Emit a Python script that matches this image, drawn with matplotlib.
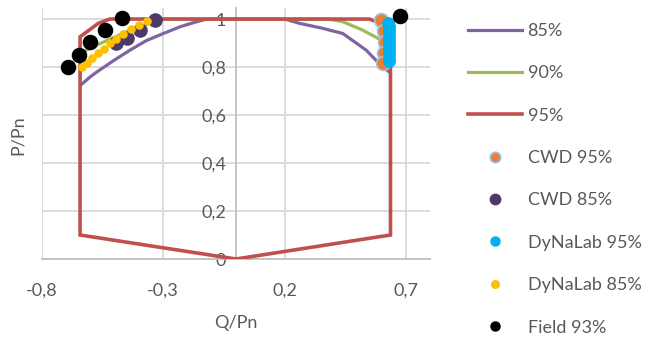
import matplotlib.pyplot as plt
from matplotlib.lines import Line2D
from matplotlib.ticker import FuncFormatter

plt.rcParams['font.family'] = ['Lato', 'DejaVu Sans']

# ================= DATA =================
# capability curves (Q/Pn, P/Pn)
q_85 = [-0.640, -0.600, -0.573, -0.500, -0.436, -0.370, -0.299, -0.230, -0.162, -0.120,
        0.000, 0.200, 0.262, 0.350, 0.440, 0.536, 0.590, 0.637]
p_85 = [0.725, 0.760, 0.780, 0.830, 0.871, 0.910, 0.940, 0.968, 0.989, 1.000,
        1.000, 1.000, 0.982, 0.963, 0.940, 0.871, 0.815, 0.775]

q_90 = [-0.643, -0.630, -0.560, -0.500, -0.440, -0.376, -0.320, 0.380, 0.440, 0.520, 0.600, 0.637]
p_90 = [0.855, 0.864, 0.898, 0.925, 0.952, 0.975, 1.000, 1.000, 0.989, 0.955, 0.912, 0.870]

q_95 = [0.000, -0.643, -0.643, -0.568, -0.520, 0.550, 0.600, 0.637, 0.637, 0.000]
p_95 = [0.000, 0.100, 0.926, 0.982, 1.000, 1.000, 0.980, 0.930, 0.100, 0.000]

# measurements
q_cwd95 = [0.600, 0.610, 0.615, 0.612, 0.605]
p_cwd95 = [0.996, 0.950, 0.905, 0.860, 0.815]

q_cwd85 = [-0.335, -0.396, -0.450, -0.493]
p_cwd85 = [0.996, 0.954, 0.919, 0.899]

q_dyn95 = [0.627, 0.629, 0.630, 0.630, 0.631, 0.631, 0.631, 0.630, 0.631, 0.630, 0.629, 0.630]
p_dyn95 = [0.985, 0.970, 0.955, 0.940, 0.925, 0.910, 0.895, 0.880, 0.865, 0.850, 0.835, 0.825]

q_dyn85 = [-0.636, -0.616, -0.592, -0.568, -0.545, -0.520, -0.495, -0.465, -0.431, -0.400, -0.369]
p_dyn85 = [0.801, 0.818, 0.839, 0.857, 0.875, 0.899, 0.915, 0.936, 0.957, 0.975, 0.993]

q_field = [-0.694, -0.648, -0.602, -0.541, -0.472, 0.678]
p_field = [0.801, 0.850, 0.903, 0.954, 1.006, 1.012]

x_ticks = [-0.8, -0.3, 0.2, 0.7]
y_ticks = [0, 0.2, 0.4, 0.6, 0.8, 1.0]

# ================= COLORS =================
c85 = '#8064A2'
c90 = '#9BBB59'
c95 = '#C0504D'
c_cwd95 = '#ED7D31'
c_cwd95_edge = '#9DC3E6'
c_cwd85 = '#4B3A68'
c_dyn95 = '#00B0F0'
c_dyn85 = '#FFC000'
c_field = '#000000'
txt = '#595959'
fs = 13

# ================= PLOT =================
fig = plt.figure(figsize=(6.61, 3.39), dpi=100)
ax = fig.add_axes([42 / 661, 80 / 339, 388 / 661, 251 / 339])

ax.plot(q_85, p_85, color=c85, lw=2.3, solid_capstyle='round', zorder=3)
ax.plot(q_90, p_90, color=c90, lw=2.3, solid_capstyle='round', zorder=3)
ax.plot(q_95, p_95, color=c95, lw=2.6, solid_joinstyle='miter', zorder=3)

ax.scatter(q_cwd95, p_cwd95, s=100, color=c_cwd95, edgecolor=c_cwd95_edge, linewidth=1.2, zorder=4)
ax.scatter(q_cwd85, p_cwd85, s=110, color=c_cwd85, linewidth=0, zorder=4)
ax.scatter(q_dyn95, p_dyn95, s=85, color=c_dyn95, linewidth=0, zorder=5)
ax.scatter(q_dyn85, p_dyn85, s=38, color=c_dyn85, linewidth=0, zorder=6)
ax.scatter(q_field, p_field, s=125, color=c_field, linewidth=0, zorder=7, clip_on=False)

ax.set_xlim(-0.8, 0.8)
ax.set_ylim(0, 1.046)
ax.set_xticks(x_ticks)
ax.set_yticks(y_ticks)

comma = FuncFormatter(lambda v, pos: f"{v:g}".replace('.', ','))
ax.xaxis.set_major_formatter(comma)
ax.yaxis.set_major_formatter(comma)

ax.grid(True, color='#D9D9D9', lw=1.3, zorder=0)
ax.set_axisbelow(True)
for s in ['top', 'right']:
    ax.spines[s].set_visible(False)
ax.spines['left'].set_position(('data', 0))
ax.spines['left'].set_color('#BFBFBF')
ax.spines['left'].set_linewidth(1.3)
ax.spines['bottom'].set_color('#BFBFBF')
ax.spines['bottom'].set_linewidth(1.3)

ax.tick_params(axis='both', length=0, labelsize=fs, labelcolor=txt)
ax.tick_params(axis='x', pad=17)
ax.tick_params(axis='y', pad=7)

ax.set_xlabel('Q/Pn', fontsize=fs, color=txt, labelpad=12)
fig.text(18 / 661, 1 - 135 / 339, 'P/Pn', rotation=90, fontsize=fs, color=txt,
         ha='center', va='center')

handles = [
    Line2D([], [], color=c85, lw=2.3),
    Line2D([], [], color=c90, lw=2.3),
    Line2D([], [], color=c95, lw=2.6),
    Line2D([], [], ls='', marker='o', ms=7.5, mfc=c_cwd95, mec=c_cwd95_edge, mew=1.2),
    Line2D([], [], ls='', marker='o', ms=7.5, mfc=c_cwd85, mec=c_cwd85),
    Line2D([], [], ls='', marker='o', ms=6.5, mfc=c_dyn95, mec=c_dyn95),
    Line2D([], [], ls='', marker='o', ms=5.5, mfc=c_dyn85, mec=c_dyn85),
    Line2D([], [], ls='', marker='o', ms=6.5, mfc=c_field, mec=c_field),
]
labels = ['85%', '90%', '95%', 'CWD 95%', 'CWD 85%', 'DyNaLab 95%', 'DyNaLab 85%', 'Field 93%']

leg = fig.legend(handles, labels, loc='upper left', bbox_to_anchor=(468 / 661, 1 - 23 / 339),
                 frameon=False, fontsize=fs, handlelength=3.0, handletextpad=0.3,
                 labelspacing=1.46, borderpad=0, borderaxespad=0)
for t in leg.get_texts():
    t.set_color(txt)

plt.savefig('out.png', dpi=100)
